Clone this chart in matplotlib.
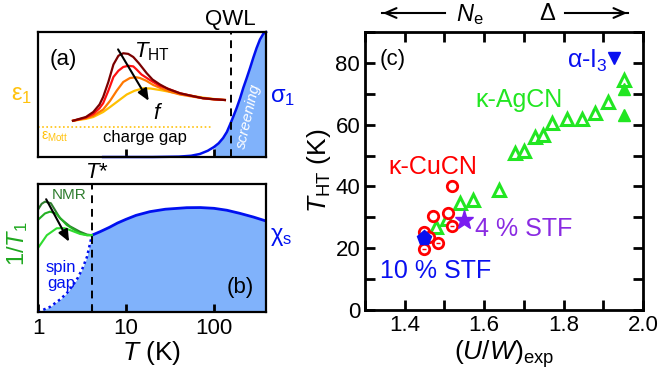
import numpy as np
import matplotlib.pyplot as plt
from matplotlib.ticker import FixedLocator, NullFormatter, FormatStrFormatter, MultipleLocator

plt.rcParams['font.family'] = ['Liberation Sans', 'DejaVu Sans']
plt.rcParams['mathtext.fontset'] = 'custom'
plt.rcParams['mathtext.rm'] = 'Liberation Sans'
plt.rcParams['mathtext.it'] = 'Liberation Sans:italic'
plt.rcParams['mathtext.bf'] = 'Liberation Sans:bold'

# ---- (a) dielectric peaks eps_1(T) for increasing frequency f ----
eps_T_dark = [2.5, 3.5, 4.25, 5.0, 5.5, 6.3, 7.2, 8.2, 9.3, 10.6, 12.1, 14, 17.2, 20, 24.3, 30, 41, 55, 75, 100, 133]
eps_dark = [0.29, 0.32, 0.36, 0.42, 0.48, 0.60, 0.74, 0.81, 0.83, 0.825, 0.80, 0.75, 0.67, 0.62, 0.58, 0.545, 0.51, 0.49, 0.47, 0.462, 0.456]
eps_T_red = [2.5, 3.5, 4.25, 5.0, 5.5, 6.3, 7.2, 8.2, 9.3, 10.6, 12.1, 13.2, 15, 18.7, 24, 29, 41, 55, 75, 100, 133]
eps_red = [0.29, 0.315, 0.345, 0.39, 0.43, 0.53, 0.64, 0.69, 0.72, 0.73, 0.725, 0.70, 0.66, 0.616, 0.57, 0.55, 0.51, 0.49, 0.47, 0.462, 0.456]
eps_T_orange = [2.5, 3.5, 4.25, 5.5, 6.6, 7.84, 9.3, 11.1, 13, 14.4, 17, 20.4, 25, 31.6, 41, 55, 75, 100, 133]
eps_orange = [0.29, 0.31, 0.33, 0.38, 0.45, 0.53, 0.60, 0.632, 0.638, 0.632, 0.61, 0.576, 0.55, 0.522, 0.50, 0.485, 0.47, 0.46, 0.456]
eps_T_yellow = [2.5, 3.5, 4.25, 5.5, 6.6, 8.2, 10.2, 12.5, 15.7, 19, 24.3, 32, 49, 75, 100, 133]
eps_yellow = [0.29, 0.305, 0.32, 0.36, 0.40, 0.45, 0.50, 0.53, 0.55, 0.548, 0.536, 0.52, 0.496, 0.475, 0.464, 0.456]

# conductivity sigma_1(T)
sig_T = [5.5, 20, 40, 55, 69, 85, 100, 113, 127, 140, 152, 165, 181, 198, 215, 235, 257, 280, 305, 333, 363, 390]
sig = [0.0, 0.0, 0.003, 0.01, 0.024, 0.05, 0.08, 0.11, 0.152, 0.2, 0.258, 0.32, 0.392, 0.47, 0.552, 0.63, 0.712, 0.795, 0.872, 0.94, 0.985, 1.0]

T_qwl = 155
T_star = 4.1
eps_mott = 0.24

# ---- (b) spin susceptibility and NMR relaxation ----
chi_T_gap = [1.0, 1.37, 1.8, 2.14, 2.5, 2.85, 3.2, 3.6, 4.1]
chi_gap = [0.0, 0.04, 0.10, 0.15, 0.21, 0.27, 0.34, 0.43, 0.60]
chi_T = [4.1, 5.06, 6.5, 8, 10, 13, 18.7, 28, 49, 70, 100, 140, 196, 280, 390]
chi = [0.60, 0.627, 0.662, 0.695, 0.724, 0.755, 0.784, 0.803, 0.815, 0.816, 0.81, 0.795, 0.771, 0.742, 0.711]

nmr_T_1 = [1.0, 1.1, 1.2, 1.4, 1.78, 2.3, 3.0, 3.6, 4.1]
nmr_1 = [0.80, 0.845, 0.862, 0.85, 0.732, 0.67, 0.627, 0.605, 0.60]
nmr_T_2 = [1.0, 1.2, 1.37, 1.6, 2.12, 3.0, 3.6, 4.1]
nmr_2 = [0.72, 0.77, 0.784, 0.77, 0.68, 0.615, 0.60, 0.60]
nmr_T_3 = [1.0, 1.26, 1.63, 2.0, 2.31, 3.0, 3.6, 4.1]
nmr_3 = [0.50, 0.60, 0.654, 0.655, 0.64, 0.61, 0.60, 0.60]

# ---- (c) T_HT vs (U/W)_exp ----
agcn_uw = [1.479, 1.506, 1.539, 1.571, 1.638, 1.678, 1.70, 1.728, 1.748, 1.772, 1.808, 1.846, 1.878, 1.913, 1.952]
agcn_T = [27.0, 29.4, 34.7, 35.6, 38.8, 50.7, 51.5, 56.1, 56.6, 60.4, 61.8, 61.8, 63.9, 67.4, 74.4]
agcn_fill_uw = [1.952, 1.952]
agcn_fill_T = [71.4, 63.1]

cucn_uw = [1.518, 1.47, 1.508, 1.449]
cucn_T = [40.1, 30.5, 31.3, 25.3]
cucn_dot_uw = [1.518, 1.462, 1.485, 1.449]
cucn_dot_T = [27.3, 23.7, 21.8, 19.7]

i3_uw, i3_T = [1.927], [81.5]
stf4_uw, stf4_T = [1.549], [29.1]
stf10_uw, stf10_T = [1.449], [23.4]

W, H = 659, 378
fig = plt.figure(figsize=(W / 100, H / 100), dpi=100)


def px_axes(x0, y0, x1, y1):
    return fig.add_axes([x0 / W, 1 - y1 / H, (x1 - x0) / W, (y1 - y0) / H])


light_blue = '#80b2fb'
gold = '#ffc20e'
blue = '#0010f0'

# ======== panel (a) ========
axa = px_axes(38, 32, 266, 157)
axa.set_xscale('log')
axa.set_xlim(1, 390)
axa.set_ylim(0, 1)
for T, y, c in [(eps_T_yellow, eps_yellow, '#ffc000'), (eps_T_orange, eps_orange, '#ff7800'),
                (eps_T_red, eps_red, '#ff1010'), (eps_T_dark, eps_dark, '#7a0000')]:
    axa.plot(T, y, color=c, lw=1.6)
sig_T_arr, sig_arr = np.array(sig_T), np.array(sig)
m = sig_T_arr >= 100
axa.fill_between(sig_T_arr[m], 0, sig_arr[m], color=light_blue, lw=0)
axa.plot(sig_T, sig, color=blue, lw=1.8, clip_on=False)
axa.plot([1, 95], [eps_mott, eps_mott], ls=(0, (1, 1.5)), color=gold, lw=1.2)
axa.axvline(T_qwl, color='black', ls=(0, (4, 3)), lw=1.4)
axa.annotate('', xy=(0.492, 0.43), xytext=(0.345, 0.88), xycoords='axes fraction',
             arrowprops=dict(arrowstyle='-|>,head_length=0.7,head_width=0.3', color='black', lw=1.5))
axa.text(0.11, 0.78, '(a)', transform=axa.transAxes, fontsize=16, ha='center', va='center')
axa.text(0.5, 0.84, r'$T_{\rm HT}$', transform=axa.transAxes, fontsize=16, ha='center', va='center')
axa.text(0.525, 0.35, r'$f$', transform=axa.transAxes, fontsize=16, ha='center', va='center')
axa.text(0.012, 0.16, r'ε$_{\rm Mott}$', transform=axa.transAxes, fontsize=10, color=gold, ha='left', va='center')
axa.text(0.47, 0.155, 'charge gap', transform=axa.transAxes, fontsize=12, ha='center', va='center')
axa.text(0.925, 0.33, 'screening', transform=axa.transAxes, fontsize=11, color='white', style='italic',
         rotation=77, ha='center', va='center')
axa.xaxis.set_major_locator(FixedLocator([10, 100]))
axa.xaxis.set_minor_locator(FixedLocator([]))
axa.xaxis.set_major_formatter(NullFormatter())
axa.set_yticks([])
axa.tick_params(axis='x', direction='in', length=6, width=2)
for s in axa.spines.values():
    s.set_linewidth(1.6)

# ======== panel (b) ========
axb = px_axes(38, 184, 266, 312)
axb.set_xscale('log')
axb.set_xlim(1, 390)
axb.set_ylim(0, 1)
axb.fill_between(chi_T_gap + chi_T, 0, chi_gap + chi, color=light_blue, lw=0)
axb.plot(chi_T_gap, chi_gap, color=blue, lw=1.8, ls=(0, (1, 1.3)), clip_on=False)
axb.plot(chi_T, chi, color=blue, lw=2.0)
axb.plot(nmr_T_1, nmr_1, color='#2e7d2e', lw=1.5)
axb.plot(nmr_T_2, nmr_2, color='#24b024', lw=1.5)
axb.plot(nmr_T_3, nmr_3, color='#30dc30', lw=1.5)
axb.axvline(T_star, color='black', ls=(0, (4, 3)), lw=1.4)
axb.annotate('', xy=(0.142, 0.53), xytext=(0.03, 0.9), xycoords='axes fraction',
             arrowprops=dict(arrowstyle='-|>,head_length=0.7,head_width=0.3', color='black', lw=1.5))
axb.text(0.135, 0.915, 'NMR', transform=axb.transAxes, fontsize=11, color='#2e7d2e', ha='center', va='center')
axb.text(0.10, 0.35, 'spin', transform=axb.transAxes, fontsize=12, color=blue, ha='center', va='center')
axb.text(0.10, 0.22, 'gap', transform=axb.transAxes, fontsize=12, color=blue, ha='center', va='center')
axb.text(0.886, 0.19, '(b)', transform=axb.transAxes, fontsize=16, ha='center', va='center')
axb.xaxis.set_major_locator(FixedLocator([1, 10, 100]))
axb.xaxis.set_major_formatter(FormatStrFormatter('%g'))
axb.xaxis.set_minor_locator(FixedLocator([T_star]))
axb.xaxis.set_minor_formatter(NullFormatter())
axb.set_yticks([])
axb.tick_params(axis='x', which='major', direction='in', length=6, width=2, labelsize=16, pad=4)
axb.tick_params(axis='x', which='minor', direction='in', length=4, width=1.5)
axb.set_xlabel(r'$T$ (K)', fontsize=19, labelpad=0)
for s in axb.spines.values():
    s.set_linewidth(1.6)

# side labels of the left panels
fig.text(22 / W, 1 - 95 / H, r'ε$_1$', fontsize=17, color=gold, ha='center', va='center')
fig.text(283 / W, 1 - 97 / H, r'σ$_1$', fontsize=17, color=blue, ha='center', va='center')
fig.text(281 / W, 1 - 237 / H, r'χ$_{\rm s}$', fontsize=17, color=blue, ha='center', va='center')
fig.text(18 / W, 1 - 244 / H, r'1/$T_1$', fontsize=17, color='#1fa81f', ha='center', va='center', rotation=90)
fig.text(230 / W, 1 - 19 / H, 'QWL', fontsize=16, ha='center', va='center')
fig.text(97 / W, 1 - 172 / H, r'$T$*', fontsize=16, ha='center', va='center')

# ======== panel (c) ========
axc = px_axes(365, 32, 643, 310)
axc.set_xlim(1.3, 2.0)
axc.set_ylim(0, 90)
green = '#22e622'
axc.plot(agcn_uw, agcn_T, ls='none', marker='^', ms=8, mfc='white', mec=green, mew=2.2)
axc.plot(agcn_fill_uw, agcn_fill_T, ls='none', marker='^', ms=9, color=green)
axc.plot(cucn_uw, cucn_T, ls='none', marker='o', ms=7.5, mfc='white', mec='#ff0000', mew=2)
axc.plot(cucn_dot_uw, cucn_dot_T, ls='none', marker='o', ms=7.5, mfc='white', mec='#ff0000', mew=2)
axc.plot(cucn_dot_uw, cucn_dot_T, ls='none', marker='_', ms=3, mec='#ff0000', mew=1)
axc.plot(stf10_uw, stf10_T, ls='none', marker='p', ms=11, color='#0a10f0')
axc.plot(stf4_uw, stf4_T, ls='none', marker='*', ms=14, color='#7a1cf0')
axc.plot(i3_uw, i3_T, ls='none', marker='v', ms=9, color='#0a10f0')
axc.text(1.37, 81, '(c)', fontsize=16, ha='center', va='center')
axc.text(1.689, 68, 'κ-AgCN', fontsize=18, color=green, ha='center', va='center')
axc.text(1.471, 46.3, 'κ-CuCN', fontsize=18, color='#ff0000', ha='center', va='center')
axc.text(1.86, 80.5, r'α-I$_3$', fontsize=18, color='#0a10f0', ha='center', va='center')
axc.text(1.70, 26.2, '4 % STF', fontsize=18, color='#8a2be2', ha='center', va='center')
axc.text(1.479, 12.7, '10 % STF', fontsize=18, color='#0a10f0', ha='center', va='center')
axc.xaxis.set_major_locator(MultipleLocator(0.2))
axc.xaxis.set_minor_locator(MultipleLocator(0.1))
axc.xaxis.set_major_formatter(FormatStrFormatter('%.1f'))
axc.yaxis.set_major_locator(MultipleLocator(20))
axc.yaxis.set_minor_locator(MultipleLocator(10))
axc.tick_params(which='both', direction='in', length=7, width=2, top=True, right=True, labelsize=16)
axc.set_xlabel(r'$(U/W)_{\rm exp}$', fontsize=19, labelpad=2)
axc.set_ylabel(r'$T_{\rm HT}$ (K)', fontsize=19, labelpad=2)
for s in axc.spines.values():
    s.set_linewidth(2)

# directions of N_e and Delta above panel (c)
fig.text(470 / W, 1 - 15 / H, r'$N_{\rm e}$', fontsize=17, ha='center', va='center')
fig.text(547 / W, 1 - 14 / H, 'Δ', fontsize=17, ha='center', va='center')
fig.add_artist(plt.Line2D([382 / W, 445 / W], [1 - 13 / H] * 2, color='black', lw=1.5))
fig.add_artist(plt.Line2D([565 / W, 628 / W], [1 - 13 / H] * 2, color='black', lw=1.5))
axc.annotate('', xy=(380 / W, 1 - 13 / H), xytext=(400 / W, 1 - 13 / H), xycoords='figure fraction',
             arrowprops=dict(arrowstyle='->,head_length=0.8,head_width=0.35', color='black', lw=1.5))
axc.annotate('', xy=(630 / W, 1 - 13 / H), xytext=(610 / W, 1 - 13 / H), xycoords='figure fraction',
             arrowprops=dict(arrowstyle='->,head_length=0.8,head_width=0.35', color='black', lw=1.5))

fig.savefig('out.png', dpi=100)
